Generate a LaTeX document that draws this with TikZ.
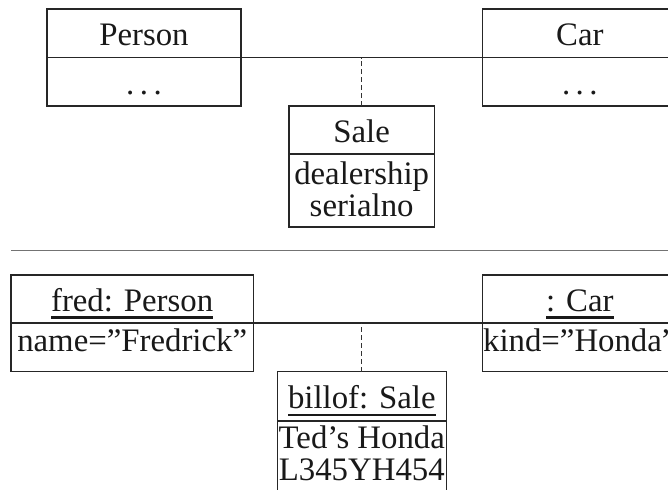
\documentclass[tikz,border=0pt]{standalone}
\usepackage{fontspec}
\setmainfont{Liberation Serif}
\usepackage{tikz}
\usetikzlibrary{positioning}
\newcommand{\objname}[1]{{\sbox0{#1}\rlap{\rule[-3.5pt]{\wd0}{1.15pt}}\usebox0}}

\begin{document}
\begin{tikzpicture}[x=0.5pt,y=-0.5pt,
  box/.style={draw=black!85, line width=0.55pt, inner sep=0pt, outer sep=0pt,
    align=center, text=black!90, font=\fontsize{16.4}{16.1}\selectfont},
  ttl/.style={box, minimum height=24.25pt, text height=12.5pt, text depth=0pt},
  attbody/.style={box, minimum height=24.35pt, text height=11pt, text depth=6.75pt},
  listbody/.style={box, minimum height=36.5pt, text depth=1.5pt},
  link/.style={draw=black!85, line width=0.55pt},
  anchorline/.style={draw=black!80, line width=0.5pt, dash pattern=on 2.5pt off 1.5pt}]
  \useasboundingbox (0,0) rectangle (668,489);
  \clip (0,0) rectangle (668,489);

  \node[ttl, minimum width=97pt] (person) at (144,33.25) {Person};
  \node[ttl, minimum width=97pt, below=0pt of person] (persondots) {.\,.\,.};
  \node[ttl, minimum width=97.5pt] (car) at (579.8,33.25) {Car};
  \node[ttl, minimum width=97.5pt, below=0pt of car] (cardots) {.\,.\,.};
  \node[ttl, minimum width=72.65pt, minimum height=24pt] (sale) at (361.65,130) {Sale};
  \node[listbody, minimum width=72.65pt, below=0pt of sale] (saleatts) {dealership\\serialno};
  \draw[link] (person.south east) -- (car.south west);
  \draw[anchorline] (sale.north) -- (sale.north |- person.south);

  \draw[black!55, line width=0.7pt] (11,250.7) -- (668,250.7);

  \node[ttl, minimum width=121.15pt, minimum height=24pt] (fred) at (132.15,299) {\objname{fred: Person}};
  \node[attbody, minimum width=121.15pt, below=0pt of fred] (fredatts) {name=”Fredrick”};
  \node[ttl, minimum width=97.5pt, minimum height=24pt] (honda) at (579.8,299) {\objname{: Car}};
  \node[attbody, minimum width=97.5pt, below=0pt of honda] (hondaatts) {kind=”Honda”};
  \node[ttl, minimum width=84.5pt, minimum height=24.65pt] (billof) at (361.8,396.35) {\objname{billof: Sale}};
  \node[listbody, minimum width=84.5pt, text depth=4pt, below=0pt of billof] (billofatts) {Ted’s Honda\\L345YH454};
  \draw[link] (fred.south east) -- (honda.south west);
  \draw[anchorline] (billof.north) -- (billof.north |- fred.south);
\end{tikzpicture}
\end{document}
